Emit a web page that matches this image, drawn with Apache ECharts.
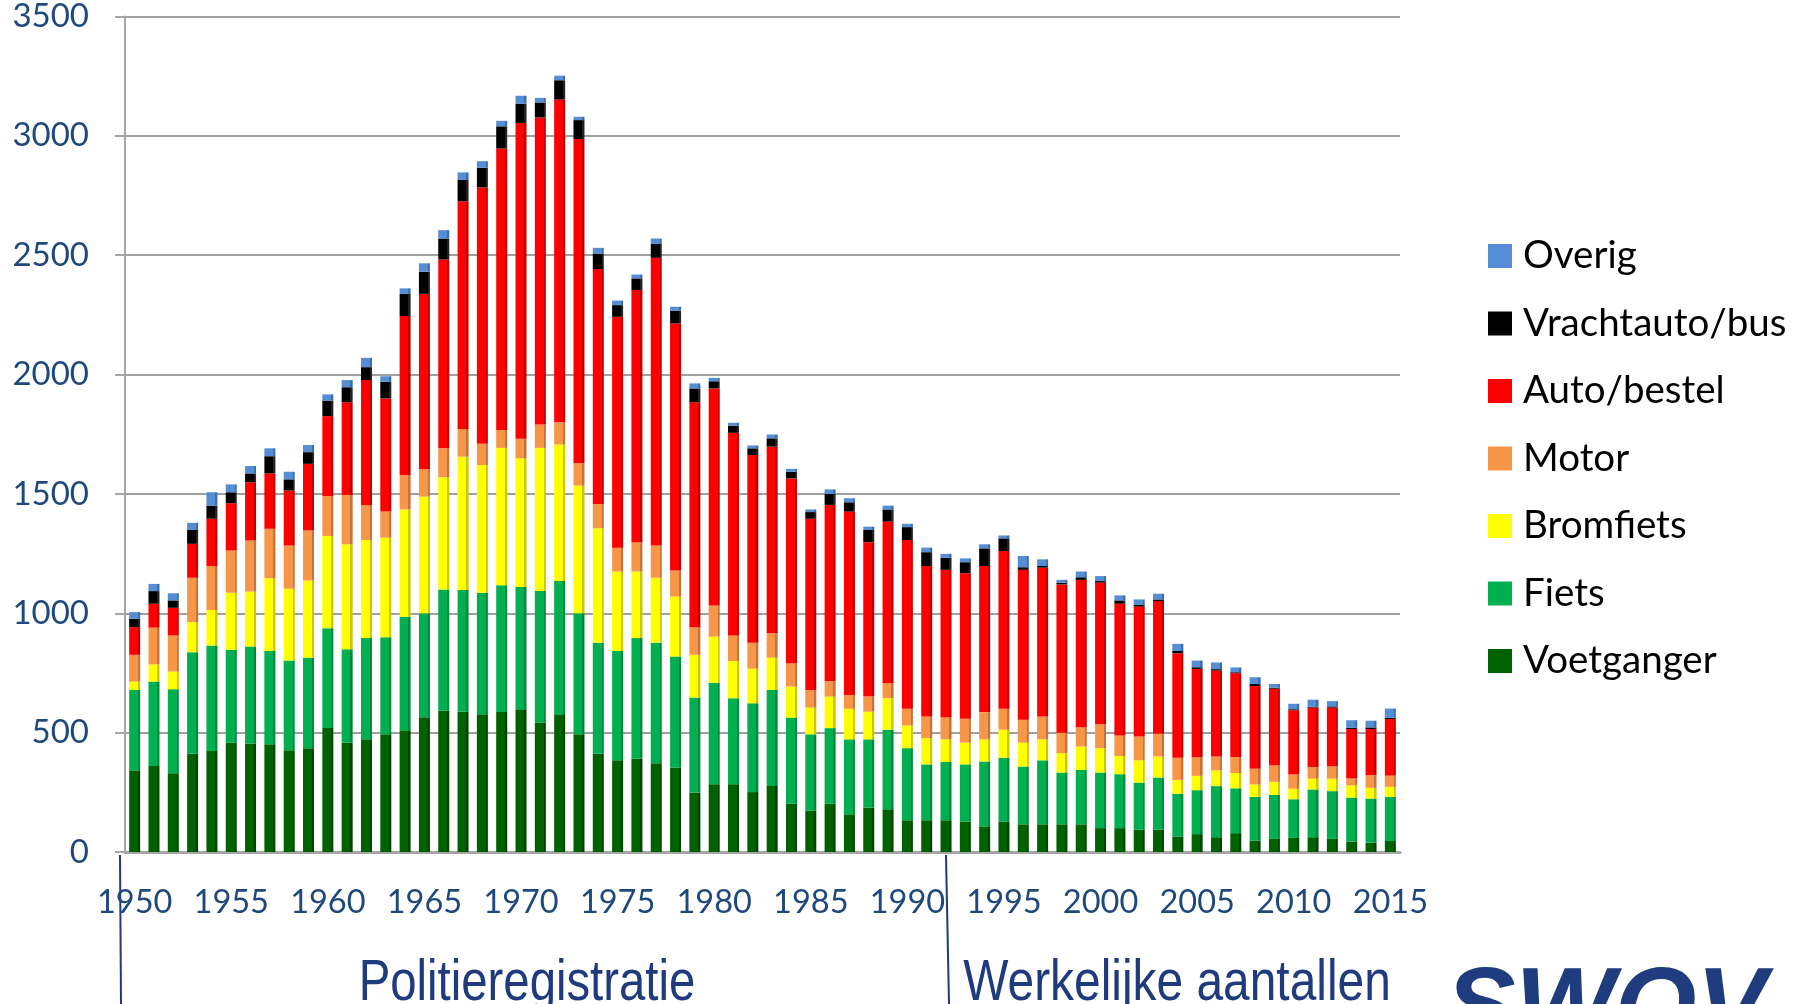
<!DOCTYPE html>
<html lang="nl">
<head>
    <meta charset="UTF-8">
    <title>Verkeersdoden per vervoerswijze 1950-2015</title>
    <script src="https://cdn.jsdelivr.net/npm/echarts@6/dist/echarts.min.js"></script>
    <style>
        body {
            margin: 0;
            background: #ffffff;
        }
        #chart {
            width: 1800px;
            height: 1004px;
        }
    </style>
</head>
<body>
    <div id="chart"></div>
    <script>
        // jaren 1950 t/m 2015
        const years = [];
        for (let y = 1950; y <= 2015; y++) years.push(String(y));

        // waarden per vervoerswijze
        const voetganger = [342, 360, 330, 412, 423, 458, 454, 451, 426, 435,
            519, 458, 472, 493, 507, 565, 593, 588, 577, 586,
            598, 542, 577, 493, 412, 384, 391, 372, 354, 249,
            284, 284, 251, 277, 202, 174, 202, 158, 186, 179,
            133, 133, 133, 128, 105, 128, 116, 116, 116, 116,
            100, 100, 93, 93, 65, 75, 62, 79, 48, 55,
            59, 62, 55, 44, 39, 46];
        const fiets = [337, 354, 352, 425, 442, 389, 407, 391, 376, 379,
            418, 391, 424, 407, 479, 435, 507, 510, 509, 531,
            512, 551, 558, 507, 465, 458, 505, 505, 465, 398,
            425, 360, 372, 402, 361, 319, 317, 314, 286, 333,
            302, 234, 244, 239, 274, 267, 242, 268, 217, 228,
            233, 226, 198, 219, 179, 184, 214, 188, 183, 184,
            162, 200, 200, 184, 185, 185];
        const bromfiets = [35, 72, 74, 126, 149, 239, 230, 305, 301, 323,
            387, 440, 411, 417, 449, 489, 470, 558, 535, 576,
            539, 600, 572, 535, 479, 333, 279, 272, 251, 179,
            193, 156, 145, 135, 130, 112, 132, 128, 116, 132,
            95, 110, 95, 91, 93, 117, 100, 88, 81, 98,
            102, 76, 93, 88, 58, 60, 66, 64, 52, 55,
            44, 45, 52, 51, 45, 42];
        const motor = [112, 154, 151, 186, 184, 177, 214, 207, 181, 210,
            167, 207, 147, 109, 144, 114, 121, 116, 89, 75,
            82, 98, 93, 93, 102, 100, 123, 135, 109, 116,
            131, 107, 109, 102, 98, 74, 65, 58, 63, 63,
            70, 91, 93, 100, 114, 88, 96, 96, 86, 81,
            100, 86, 100, 95, 93, 78, 58, 67, 66, 69,
            60, 49, 52, 29, 53, 47];
        const auto = [116, 100, 116, 142, 198, 198, 244, 232, 230, 279,
            335, 388, 523, 474, 666, 735, 791, 954, 1074, 1179,
            1323, 1286, 1352, 1359, 984, 967, 1056, 1205, 1035, 942,
            909, 849, 786, 782, 774, 717, 738, 768, 647, 677,
            707, 630, 617, 610, 612, 661, 628, 623, 621, 617,
            593, 552, 544, 556, 438, 370, 360, 351, 346, 321,
            269, 249, 246, 207, 193, 237];
        const vracht = [35, 53, 31, 58, 55, 46, 37, 72, 47, 49,
            65, 63, 54, 70, 93, 93, 88, 89, 82, 93,
            81, 63, 81, 79, 65, 49, 49, 58, 54, 58,
            30, 30, 28, 35, 28, 28, 46, 39, 51, 51,
            54, 58, 51, 46, 74, 53, 11, 7, 7, 11,
            7, 14, 7, 7, 9, 7, 6, 4, 9, 4,
            4, 3, 5, 6, 7, 5];
        const overig = [28, 30, 30, 30, 56, 33, 31, 33, 32, 30,
            26, 30, 39, 23, 23, 35, 35, 32, 28, 23,
            33, 19, 19, 14, 24, 19, 16, 23, 16, 21,
            14, 12, 12, 16, 12, 11, 19, 17, 14, 16,
            14, 19, 16, 16, 17, 12, 47, 28, 12, 24,
            21, 21, 23, 24, 30, 28, 28, 20, 28, 16,
            23, 30, 22, 31, 28, 39];

        const yTicks = [0, 500, 1000, 1500, 2000, 2500, 3000, 3500];

        const blauw = '#1F497D';
        const labelFont = 'Lato, "Open Sans", sans-serif';
        const tekstFont = '57px "Liberation Sans", Arial, sans-serif';

        // [naam, data, kleur, donkere zijkant]
        const lagen = [
            ['Voetganger', voetganger, '#006100', '#004400'],
            ['Fiets', fiets, '#00B050', '#008A3E'],
            ['Bromfiets', bromfiets, '#FFFF00', '#C8C800'],
            ['Motor', motor, '#F79646', '#C4733A'],
            ['Auto/bestel', auto, '#FF0000', '#C00000'],
            ['Vrachtauto/bus', vracht, '#000000', '#222222'],
            ['Overig', overig, '#558ED5', '#3E6FAA']
        ];

        // balk met een smalle donkere rechterkant (3D-effect)
        function balkKleur(kleur, zijkant) {
            return {
                type: 'linear', x: 0, y: 0, x2: 1, y2: 0,
                colorStops: [
                    { offset: 0, color: kleur },
                    { offset: 0.8, color: kleur },
                    { offset: 0.8, color: zijkant },
                    { offset: 1, color: zijkant }
                ]
            };
        }

        const series = lagen.map(l => ({
            name: l[0],
            type: 'bar',
            stack: 'totaal',
            barWidth: 11,
            data: l[1],
            itemStyle: { color: balkKleur(l[2], l[3]) }
        }));

        const legendData = lagen.slice().reverse().map(l => ({
            name: l[0],
            itemStyle: { color: l[2] }
        }));

        const chart = echarts.init(document.getElementById('chart'));
        chart.setOption({
            animation: false,
            backgroundColor: '#ffffff',
            grid: {
                left: 125,
                right: 400,
                top: 15,
                bottom: 152
            },
            legend: {
                orient: 'vertical',
                left: 1488,
                top: 236,
                padding: 0,
                itemWidth: 24,
                itemHeight: 24,
                itemGap: 27.5,
                selectedMode: false,
                icon: 'rect',
                data: legendData,
                textStyle: {
                    fontFamily: labelFont,
                    fontSize: 38.5,
                    lineHeight: 40,
                    color: '#000000',
                    padding: [0, 0, 0, 6]
                }
            },
            xAxis: {
                type: 'category',
                data: years,
                axisLine: {
                    lineStyle: { color: '#A6A6A6', width: 3 }
                },
                axisTick: {
                    interval: (i) => i % 5 === 0 && i > 0,
                    length: 23,
                    lineStyle: { color: '#A6A6A6', width: 2 }
                },
                axisLabel: {
                    interval: 4,
                    margin: 34,
                    fontFamily: labelFont,
                    fontSize: 32.5,
                    color: blauw
                }
            },
            yAxis: {
                type: 'value',
                min: yTicks[0],
                max: yTicks[yTicks.length - 1],
                interval: yTicks[1] - yTicks[0],
                axisLine: {
                    show: true,
                    lineStyle: { color: '#A6A6A6', width: 2 }
                },
                axisTick: {
                    show: true,
                    length: 10,
                    lineStyle: { color: '#A6A6A6', width: 2 }
                },
                splitLine: {
                    lineStyle: { color: '#A0A0A0', width: 2 }
                },
                axisLabel: {
                    margin: 36,
                    padding: [10, 0, 0, 0],
                    fontFamily: labelFont,
                    fontSize: 33,
                    color: blauw,
                    formatter: (v) => String(v)
                }
            },
            graphic: [
                {
                    type: 'line',
                    shape: { x1: 120, y1: 855, x2: 121, y2: 1004 },
                    style: { stroke: '#1F3B7D', lineWidth: 2 }
                },
                {
                    type: 'line',
                    shape: { x1: 946, y1: 855, x2: 949, y2: 1004 },
                    style: { stroke: '#1F3B7D', lineWidth: 2 }
                },
                {
                    // smalle letter: tekst horizontaal samengedrukt
                    type: 'text',
                    x: 527,
                    y: 984,
                    scaleX: 0.83,
                    style: {
                        text: 'Politieregistratie',
                        font: tekstFont,
                        fill: '#1F3B7D',
                        align: 'center',
                        verticalAlign: 'middle'
                    }
                },
                {
                    type: 'text',
                    x: 1177,
                    y: 984,
                    scaleX: 0.84,
                    style: {
                        text: 'Werkelijke aantallen',
                        font: tekstFont,
                        fill: '#1F3B7D',
                        align: 'center',
                        verticalAlign: 'middle'
                    }
                },
                {
                    type: 'text',
                    x: 1606,
                    y: 1012,
                    style: {
                        text: 'SWOV',
                        font: 'italic bold 105px "Liberation Sans", sans-serif',
                        fill: '#1E3C7E',
                        align: 'center',
                        verticalAlign: 'middle'
                    }
                }
            ],
            series: series
        });
    </script>
</body>
</html>
